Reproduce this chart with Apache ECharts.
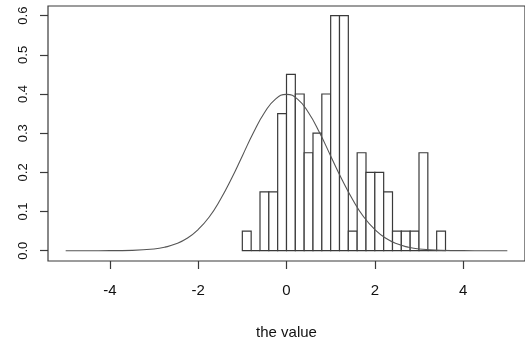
<!DOCTYPE html>
<html>
<head>
<meta charset="utf-8">
<script src="https://cdn.jsdelivr.net/npm/echarts@6/dist/echarts.min.js"></script>
<style>
html,body{margin:0;padding:0;background:#fff;}
#chart{width:525px;height:346px;}
</style>
</head>
<body>
<div id="chart"></div>
<script>
// histogram breaks and densities (bin width 0.2)
const breaks = [-1.0,-0.8,-0.6,-0.4,-0.2,0.0,0.2,0.4,0.6,0.8,1.0,1.2,1.4,1.6,1.8,2.0,2.2,2.4,2.6,2.8,3.0,3.2,3.4,3.6];
const density = [0.05,0.00,0.15,0.15,0.35,0.45,0.40,0.25,0.30,0.40,0.60,0.60,0.05,0.25,0.20,0.20,0.15,0.05,0.05,0.05,0.25,0.00,0.05];

// overlaid curve
const curveX = [-5,-4.5,-4,-3.5,-3,-2.75,-2.5,-2.25,-2,-1.75,-1.5,-1.25,-1,-0.75,-0.5,-0.25,0,0.25,0.5,0.75,1,1.25,1.5,1.75,2,2.25,2.5,2.75,3,3.5,4,4.5,5];
const curveY = [0,0,0.0001,0.0009,0.0044,0.0091,0.0175,0.0317,0.054,0.086,0.130,0.183,0.242,0.301,0.352,0.387,0.399,0.387,0.352,0.301,0.242,0.183,0.130,0.086,0.054,0.0317,0.0175,0.0091,0.0044,0.0009,0.0001,0,0];

// tick labels
const xTicks = [-4,-2,0,2,4];
const yTicks = [0,0.1,0.2,0.3,0.4,0.5,0.6];
const yTickLabels = ['0.0','0.1','0.2','0.3','0.4','0.5','0.6'];
const xName = 'the value';

const barData = density.map((d,i)=>[breaks[i], breaks[i+1], d]);
const curveData = curveX.map((x,i)=>[x, curveY[i]]);

const FONT = 'Liberation Sans, Arial, sans-serif';
const INK = '#3a3a3a';
const TXT = '#111';

const chart = echarts.init(document.getElementById('chart'), null, {renderer:'canvas'});
chart.setOption({
  animation:false,
  backgroundColor:'#fff',
  grid:{left:48, top:6, width:484, height:255, show:true, borderColor:INK, borderWidth:1.2, backgroundColor:'transparent'},
  xAxis:{
    type:'value', min:-5.4, max:5.4,
    splitLine:{show:false},
    axisLine:{show:false, onZero:false},
    axisTick:{show:true, length:8, lineStyle:{color:INK, width:1.2}, customValues:xTicks},
    axisLabel:{show:true, customValues:xTicks, margin:22, fontSize:15, color:TXT, fontFamily:FONT},
    name:xName, nameLocation:'middle', nameGap:64,
    nameTextStyle:{fontSize:15, color:TXT, fontFamily:FONT}
  },
  yAxis:{
    type:'value', min:-0.0263, max:0.6247,
    splitLine:{show:false},
    axisLine:{show:false, onZero:false},
    axisTick:{show:true, length:8, lineStyle:{color:INK, width:1.2}, customValues:yTicks},
    axisLabel:{show:true, customValues:yTicks, rotate:90, margin:18, fontSize:13, color:TXT, fontFamily:FONT,
      formatter:function(v){ const i = yTicks.findIndex(t=>Math.abs(t-v)<1e-9); return i>=0 ? yTickLabels[i] : ''; }}
  },
  series:[
    {
      type:'custom',
      data:barData,
      encode:{x:[0,1], y:2},
      renderItem:function(params, api){
        const p0 = api.coord([api.value(0), api.value(2)]);
        const p1 = api.coord([api.value(1), 0]);
        return {
          type:'rect',
          shape:{x:p0[0], y:p0[1], width:p1[0]-p0[0], height:p1[1]-p0[1]},
          style:{fill:'#fff', stroke:INK, lineWidth:1.2}
        };
      },
      z:2
    },
    {
      type:'line',
      data:curveData,
      showSymbol:false,
      symbol:'none',
      smooth:true,
      lineStyle:{color:'#555', width:1.1},
      z:3
    }
  ]
});
</script>
</body>
</html>
